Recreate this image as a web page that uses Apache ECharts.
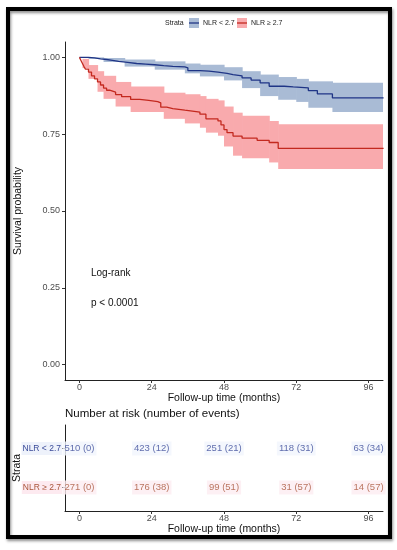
<!DOCTYPE html>
<html>
<head>
<meta charset="utf-8">
<script src="https://cdn.jsdelivr.net/npm/echarts@6/dist/echarts.min.js"></script>
<style>html,body{margin:0;padding:0;background:#fff}#c{width:397px;height:550px}</style>
</head>
<body>
<div id="c"></div>
<script>
// ---- Data ----
const lowName = 'NLR < 2.7';
const highName = 'NLR \u2265 2.7';
// Kaplan-Meier step points (time in months, survival)
const lowT = [0, 3, 5, 7, 9, 11, 13, 16, 19, 22, 25, 28, 31, 35, 36, 40, 43, 46, 49, 51, 54, 57, 60, 63, 68, 71, 76, 79, 84, 101];
const lowS = [1.0, 0.998, 0.995, 0.993, 0.99, 0.987, 0.984, 0.98, 0.978, 0.976, 0.973, 0.971, 0.969, 0.966, 0.957, 0.955, 0.952, 0.948, 0.944, 0.94, 0.933, 0.926, 0.917, 0.906, 0.904, 0.901, 0.892, 0.881, 0.868, 0.868];
const highT = [0, 0.5, 1, 1.5, 2, 3, 4, 5, 6, 7, 8, 9, 10, 12, 14, 17, 20, 23, 26, 27, 29, 31, 35, 40, 42, 46, 47, 48, 49, 51, 54, 59, 63, 66, 101];
const highS = [1.0, 0.99, 0.98, 0.97, 0.962, 0.952, 0.94, 0.93, 0.92, 0.91, 0.90, 0.893, 0.887, 0.879, 0.872, 0.863, 0.86, 0.856, 0.852, 0.838, 0.833, 0.828, 0.822, 0.815, 0.80, 0.793, 0.78, 0.765, 0.755, 0.744, 0.737, 0.73, 0.723, 0.704, 0.704];
// confidence bands
const lowBandT = [0, 3, 8, 15, 25, 35, 40, 48, 54, 60, 66, 72, 76, 84, 101];
const lowBandUp = [1.0, 1.0, 0.998, 0.993, 0.987, 0.98, 0.976, 0.968, 0.955, 0.944, 0.936, 0.93, 0.922, 0.917, 0.917];
const lowBandLo = [1.0, 0.995, 0.985, 0.97, 0.96, 0.948, 0.938, 0.925, 0.9, 0.874, 0.862, 0.855, 0.836, 0.822, 0.822];
const highBandT = [0, 1, 3, 6, 8, 12, 17, 28, 35, 40, 42, 46, 48, 51, 54, 63, 66, 101];
const highBandUp = [1.0, 0.995, 0.975, 0.955, 0.94, 0.92, 0.905, 0.885, 0.88, 0.874, 0.865, 0.86, 0.84, 0.82, 0.81, 0.793, 0.782, 0.782];
const highBandLo = [1.0, 0.965, 0.93, 0.888, 0.865, 0.84, 0.822, 0.80, 0.785, 0.771, 0.755, 0.745, 0.71, 0.68, 0.672, 0.658, 0.637, 0.637];
// risk table
const riskTimes = [0, 24, 48, 72, 96];
const lowAtRisk = [510, 423, 251, 118, 63];
const lowEvents = [0, 12, 21, 31, 34];
const highAtRisk = [271, 176, 99, 31, 14];
const highEvents = [0, 38, 51, 57, 57];
const xTicks = [0, 24, 48, 72, 96];
const yTicks = [0, 0.25, 0.5, 0.75, 1.0];

// ---- Styles ----
const blueLine = '#1f3586', blueBand = '#a9bbd5';
const redLine = '#c3291f', redBand = '#f9aaad';
const blueText = '#3a4a98', redText = '#a9553a';
const FONT = 'Liberation Sans, Arial, sans-serif';

const pairs = (t, v) => t.map((x, i) => [x, v[i]]);
// band segments: [t_i, t_{i+1}, lower_i, upper_i]
const segs = (t, up, lo) => t.slice(0, -1).map((x, i) => [x, t[i + 1], lo[i], up[i]]);

function bandSeries(t, up, lo, color) {
  return {
    type: 'custom', xAxisIndex: 0, yAxisIndex: 0, silent: true, z: 1, clip: true,
    data: segs(t, up, lo),
    encode: { x: [0, 1], y: [2, 3] },
    renderItem: (params, api) => {
      const p0 = api.coord([api.value(0), api.value(3)]);
      const p1 = api.coord([api.value(1), api.value(2)]);
      const rect = echarts.graphic.clipRectByRect(
        { x: p0[0], y: p0[1], width: p1[0] - p0[0] + 0.6, height: Math.max(p1[1] - p0[1], 0.5) },
        params.coordSys);
      return rect && { type: 'rect', shape: rect, style: { fill: color } };
    }
  };
}

const axisCommonX = (gridIndex) => ({
  type: 'value', gridIndex, min: -4.8, max: 100.8,
  axisLine: { show: true, onZero: false, lineStyle: { color: '#222', width: 1 } },
  axisTick: { show: true, customValues: xTicks, length: 3, lineStyle: { color: '#333' } },
  axisLabel: { customValues: xTicks, margin: 3, fontSize: 9, color: '#4d4d4d', fontFamily: FONT },
  splitLine: { show: false },
  name: 'Follow-up time (months)', nameLocation: 'middle', nameGap: 13, nameMoveOverlap: false,
  nameTextStyle: { fontSize: 10.5, color: '#111', fontFamily: FONT }
});

const riskLabel = (atRisk, events) => atRisk.map((n, i) => n + ' (' + events[i] + ')');
const lowRiskText = riskLabel(lowAtRisk, lowEvents);
const highRiskText = riskLabel(highAtRisk, highEvents);

const option = {
  backgroundColor: '#fff',
  animation: false,
  grid: [
    { left: 65, top: 42, width: 318, height: 338, containLabel: false, outerBoundsMode: 'none' },
    { left: 65, top: 425, width: 318, height: 86, containLabel: false, outerBoundsMode: 'none' }
  ],
  xAxis: [axisCommonX(0), axisCommonX(1)],
  yAxis: [
    { type: 'value', gridIndex: 0, min: -0.05, max: 1.05,
      axisLine: { show: true, onZero: false, lineStyle: { color: '#222', width: 1 } },
      axisTick: { show: true, customValues: yTicks, length: 3, lineStyle: { color: '#333' } },
      axisLabel: { customValues: yTicks, margin: 5, fontSize: 9, color: '#4d4d4d', fontFamily: FONT,
        formatter: v => v.toFixed(2) },
      splitLine: { show: false },
      name: 'Survival probability', nameLocation: 'middle', nameGap: 41, nameRotate: 90, nameMoveOverlap: false,
      nameTextStyle: { fontSize: 10.5, color: '#111', fontFamily: FONT } },
    { type: 'value', gridIndex: 1, min: 0.4, max: 2.6,
      axisLine: { show: true, onZero: false, lineStyle: { color: '#222', width: 1 } },
      axisTick: { show: true, customValues: [1, 2], length: 3, lineStyle: { color: '#333' } },
      axisLabel: { customValues: [1, 2], margin: 3, fontSize: 8.5, fontFamily: FONT,
        formatter: v => v === 2 ? '{a|' + lowName + '}' : '{b|' + highName + '}',
        rich: {
          a: { color: blueText, fontSize: 8.5, fontFamily: FONT, backgroundColor: '#eef2fb', padding: [2, 1] },
          b: { color: redText, fontSize: 8.5, fontFamily: FONT, backgroundColor: '#fdeaf0', padding: [2, 1] }
        } },
      splitLine: { show: false },
      name: 'Strata', nameLocation: 'middle', nameGap: 42, nameRotate: 90, nameMoveOverlap: false,
      nameTextStyle: { fontSize: 10.5, color: '#111', fontFamily: FONT } }
  ],
  series: [
    bandSeries(lowBandT, lowBandUp, lowBandLo, blueBand),
    bandSeries(highBandT, highBandUp, highBandLo, redBand),
    { name: lowName, type: 'line', step: 'end', data: pairs(lowT, lowS), symbol: 'none',
      lineStyle: { color: blueLine, width: 1.3 }, xAxisIndex: 0, yAxisIndex: 0, z: 3 },
    { name: highName, type: 'line', step: 'end', data: pairs(highT, highS), symbol: 'none',
      lineStyle: { color: redLine, width: 1.3 }, xAxisIndex: 0, yAxisIndex: 0, z: 3 },
    { type: 'scatter', xAxisIndex: 1, yAxisIndex: 1, symbolSize: 0,
      data: riskTimes.map((t, i) => ({ value: [t, 2], name: lowRiskText[i] })),
      label: { show: true, position: 'inside', formatter: p => p.name, fontSize: 9.5, fontFamily: FONT,
        color: blueText, backgroundColor: '#f1f5fc', padding: [2, 2] } },
    { type: 'scatter', xAxisIndex: 1, yAxisIndex: 1, symbolSize: 0,
      data: riskTimes.map((t, i) => ({ value: [t, 1], name: highRiskText[i] })),
      label: { show: true, position: 'inside', formatter: p => p.name, fontSize: 9.5, fontFamily: FONT,
        color: redText, backgroundColor: '#fdecf1', padding: [2, 2] } }
  ],
  graphic: [
    { type: 'rect', shape: { x: 8, y: 9, width: 382, height: 528 }, silent: true,
      style: { fill: 'none', stroke: '#000', lineWidth: 4, shadowBlur: 3, shadowColor: 'rgba(0,0,0,0.45)', shadowOffsetX: 1, shadowOffsetY: 2 } },
    // legend
    { type: 'text', x: 165, y: 23, style: { text: 'Strata', fontSize: 7, fill: '#222', fontFamily: FONT, verticalAlign: 'middle' } },
    { type: 'rect', shape: { x: 189, y: 18, width: 10, height: 10 }, style: { fill: blueBand } },
    { type: 'line', shape: { x1: 189, y1: 23, x2: 199, y2: 23 }, style: { stroke: blueLine, lineWidth: 1.3 } },
    { type: 'text', x: 203, y: 23, style: { text: lowName, fontSize: 7, fill: '#222', fontFamily: FONT, verticalAlign: 'middle' } },
    { type: 'rect', shape: { x: 237, y: 18, width: 10, height: 10 }, style: { fill: redBand } },
    { type: 'line', shape: { x1: 237, y1: 23, x2: 247, y2: 23 }, style: { stroke: redLine, lineWidth: 1.3 } },
    { type: 'text', x: 251, y: 23, style: { text: highName, fontSize: 7, fill: '#222', fontFamily: FONT, verticalAlign: 'middle' } },
    // annotations
    { type: 'text', x: 91, y: 273, style: { text: 'Log-rank', fontSize: 10, fill: '#111', fontFamily: FONT, verticalAlign: 'middle' } },
    { type: 'text', x: 91, y: 303, style: { text: 'p < 0.0001', fontSize: 10, fill: '#111', fontFamily: FONT, verticalAlign: 'middle' } },
    { type: 'text', x: 65, y: 414, style: { text: 'Number at risk (number of events)', fontSize: 11.5, fill: '#111', fontFamily: FONT, verticalAlign: 'middle' } }
  ]
};

const chart = echarts.init(document.getElementById('c'), null, { renderer: 'canvas' });
chart.setOption(option);
</script>
</body>
</html>
